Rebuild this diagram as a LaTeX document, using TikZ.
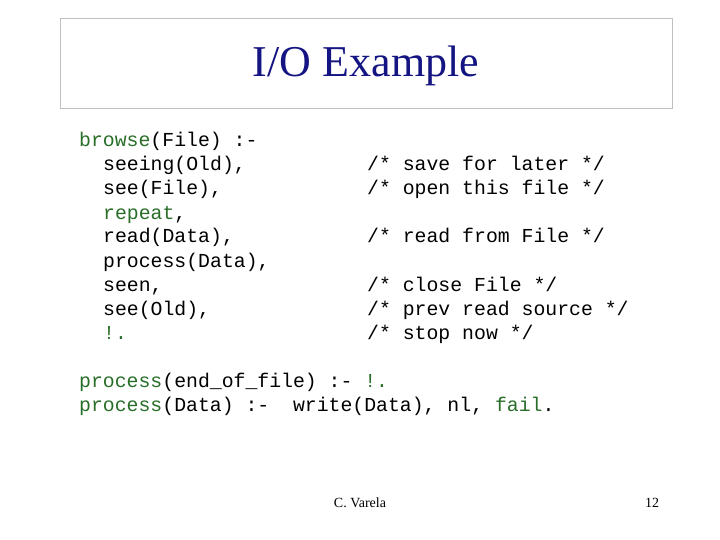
\documentclass[tikz,border=0pt]{standalone}
\usepackage{fontspec}
\setmainfont{Liberation Serif}
\setmonofont{Liberation Mono}
\definecolor{kw}{RGB}{40,110,40}
\definecolor{ttl}{RGB}{20,20,130}
\begin{document}
\begin{tikzpicture}[x=1pt,y=-1pt,
  code/.style={anchor=base west,inner sep=0pt,yshift=-6pt,font=\ttfamily\fontsize{19.8}{20}\selectfont},
  foot/.style={inner sep=0pt,font=\fontsize{14}{14}\selectfont}]
\useasboundingbox (0,0) rectangle (720,540);
\draw[gray!50,line width=0.8pt] (60,18) rectangle (672,108);
\node[inner sep=0pt,text=ttl,font=\fontsize{44}{44}\selectfont] (title) at (366,66) {I/O Example};
\node[code] (l1) at (79,141) {\textcolor{kw}{browse}(File) :-};
\node[code] (l2) at (103,165) {seeing(Old),};
\node[code] (l3) at (103,189) {see(File),};
\node[code] (l4) at (103,213) {\textcolor{kw}{repeat},};
\node[code] (l5) at (103,237) {read(Data),};
\node[code] (l6) at (103,261) {process(Data),};
\node[code] (l7) at (103,285) {seen,};
\node[code] (l8) at (103,309) {see(Old),};
\node[code] (l9) at (103,333) {\textcolor{kw}{!.}};
\node[code] (c2) at (367,165) {/* save for later */};
\node[code] (c3) at (367,189) {/* open this file */};
\node[code] (c5) at (367,237) {/* read from File */};
\node[code] (c7) at (367,285) {/* close File */};
\node[code] (c8) at (367,309) {/* prev read source */};
\node[code] (c9) at (367,333) {/* stop now */};
\node[code] (p1) at (79,381) {\textcolor{kw}{process}(end\_of\_file) :- \textcolor{kw}{!.}};
\node[code] (p2) at (79,405) {\textcolor{kw}{process}(Data) :-\ \ write(Data), nl, \textcolor{kw}{fail}.};
\node[foot] (author) at (360,503) {C. Varela};
\node[foot] (page) at (652,503) {12};
\end{tikzpicture}
\end{document}
